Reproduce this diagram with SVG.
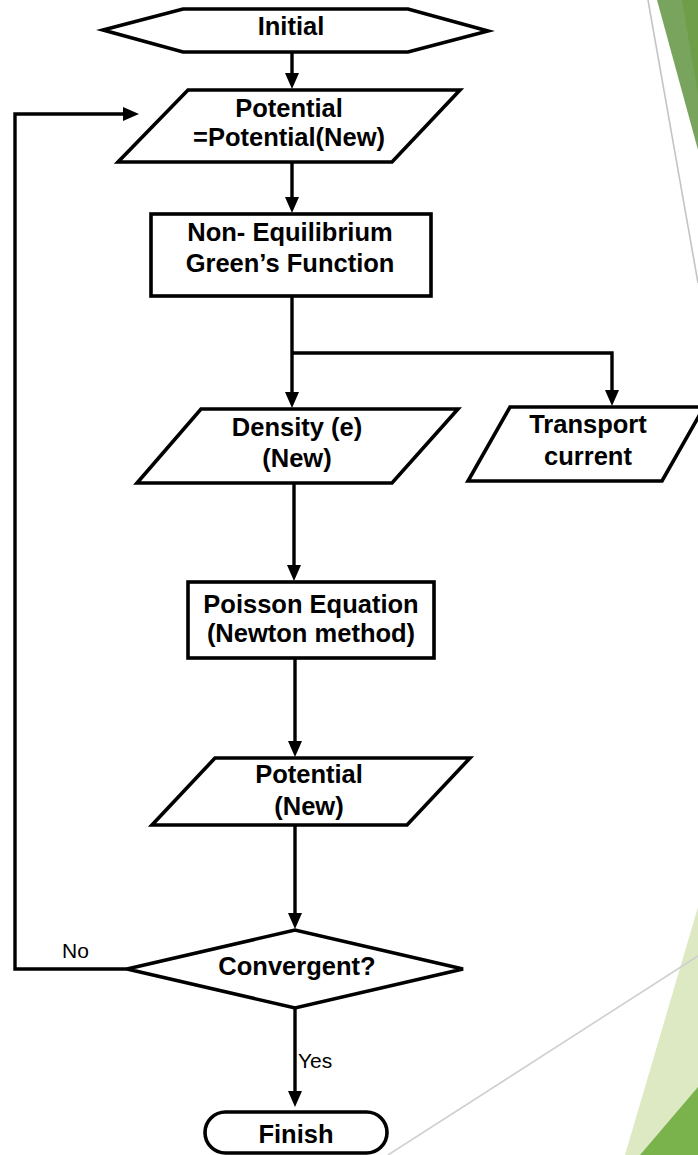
<svg xmlns="http://www.w3.org/2000/svg" width="698" height="1155" viewBox="0 0 698 1155">
  <defs>
    <marker id="arrow" markerUnits="userSpaceOnUse" markerWidth="16" markerHeight="14" refX="8" refY="7" orient="auto">
      <path d="M0,0 L16,7 L0,14 z" fill="#000"/>
    </marker>
    <style>
      .shape { fill: #fff; stroke: #000; stroke-width: 3.6; stroke-linejoin: miter; }
      .wire { fill: none; stroke: #000; stroke-width: 3.4; }
      .lbl { font-family: "Liberation Sans", Arial, sans-serif; font-weight: bold; font-size: 25.5px; text-anchor: middle; fill: #000; }
      .tag { font-family: "Liberation Sans", Arial, sans-serif; font-size: 21px; fill: #000; }
    </style>
  </defs>

  <!-- slide decoration -->
  <g id="decor">
    <polygon points="657,0 698,0 698,150" fill="#79a45e"/>
    <polygon points="682,0 698,0 698,95" fill="#6f9e48"/>
    <line x1="648" y1="0" x2="698" y2="283" stroke="#c4c4c4" stroke-width="1.6"/>
    <polygon points="698,907 698,1155 625,1155" fill="#dde9c2"/>
    <polygon points="698,1087 698,1155 640,1155" fill="#7ab24b"/>
    <line x1="698" y1="956" x2="388" y2="1155" stroke="#cfcfcf" stroke-width="1.6"/>
  </g>

  <!-- connectors -->
  <g id="connectors" class="wire">
    <line x1="292" y1="52" x2="292" y2="81" marker-end="url(#arrow)"/>
    <line x1="292" y1="162" x2="292" y2="205" marker-end="url(#arrow)"/>
    <line x1="292" y1="296" x2="292" y2="400" marker-end="url(#arrow)"/>
    <polyline points="292,353 612,353 612,398" marker-end="url(#arrow)"/>
    <line x1="294" y1="483" x2="294" y2="573" marker-end="url(#arrow)"/>
    <line x1="295" y1="658" x2="295" y2="749" marker-end="url(#arrow)"/>
    <line x1="295" y1="825" x2="295" y2="921" marker-end="url(#arrow)"/>
    <line x1="295" y1="1008" x2="295" y2="1099" marker-end="url(#arrow)"/>
    <polyline points="127,969 15,969 15,114 131,114" marker-end="url(#arrow)"/>
  </g>

  <g id="initial">
    <polygon class="shape" points="103,30 183,9 408,9 488,31 408,52 183,52"/>
    <text class="lbl" x="291" y="35">Initial</text>
  </g>

  <g id="potential-set">
    <polygon class="shape" points="188,90 460,90 392,162 118,162"/>
    <text class="lbl" x="289" y="117">Potential</text>
    <text class="lbl" x="289" y="146">=Potential(New)</text>
  </g>

  <g id="negf">
    <rect class="shape" x="151" y="214" width="280" height="82"/>
    <text class="lbl" x="290" y="241">Non- Equilibrium</text>
    <text class="lbl" x="290" y="272">Green’s Function</text>
  </g>

  <g id="density">
    <polygon class="shape" points="201,409 458,409 392,483 137,483"/>
    <text class="lbl" x="297" y="436">Density (e)</text>
    <text class="lbl" x="297" y="467">(New)</text>
  </g>

  <g id="transport">
    <polygon class="shape" points="510,407 704,407 662,481 468,481"/>
    <text class="lbl" x="588" y="433">Transport</text>
    <text class="lbl" x="588" y="465">current</text>
  </g>

  <g id="poisson">
    <rect class="shape" x="188" y="582" width="246" height="76"/>
    <text class="lbl" x="311" y="613">Poisson Equation</text>
    <text class="lbl" x="311" y="642">(Newton method)</text>
  </g>

  <g id="potential-new">
    <polygon class="shape" points="215,758 470,758 407,825 152,825"/>
    <text class="lbl" x="309" y="783">Potential</text>
    <text class="lbl" x="309" y="815">(New)</text>
  </g>

  <g id="convergent">
    <polygon class="shape" points="127,969 295,930 463,969 295,1008"/>
    <text class="lbl" x="297" y="975">Convergent?</text>
    <text class="tag" x="62" y="958">No</text>
    <text class="tag" x="298" y="1068">Yes</text>
  </g>

  <g id="finish">
    <rect class="shape" x="205" y="1112" width="182" height="41" rx="20.5"/>
    <text class="lbl" x="296" y="1143">Finish</text>
  </g>
</svg>
